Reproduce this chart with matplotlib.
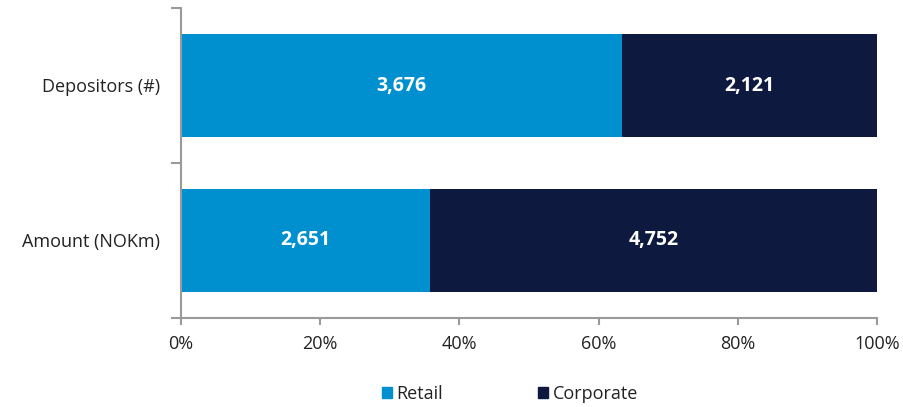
import matplotlib
matplotlib.use("Agg")
import matplotlib.pyplot as plt
from matplotlib.patches import Patch

categories = ["Amount (NOKm)", "Depositors (#)"]
retail = [2651, 3676]
corporate = [4752, 2121]
series_names = ["Retail", "Corporate"]
xticks = [0, 20, 40, 60, 80, 100]

c_retail = "#0090CF"
c_corp = "#0D193E"
gray = "#9A9A9A"

plt.rcParams['font.family'] = ['Open Sans', 'DejaVu Sans']

fig = plt.figure(figsize=(9.04, 4.07), dpi=100)
ax = fig.add_axes([181/904, 1-318/407, (877-181)/904, 310/407])

y = list(range(len(categories)))
tot = [r + c for r, c in zip(retail, corporate)]
rp = [r / t * 100 for r, t in zip(retail, tot)]
cp = [c / t * 100 for c, t in zip(corporate, tot)]
h = 103/155
ax.barh(y, rp, height=h, color=c_retail)
ax.barh(y, cp, left=rp, height=h, color=c_corp)
for i in y:
    ax.text(rp[i]/2, i, f"{retail[i]:,}", ha="center", va="center", color="white",
            fontsize=14, fontweight="bold")
    ax.text(rp[i] + cp[i]/2, i, f"{corporate[i]:,}", ha="center", va="center", color="white",
            fontsize=14, fontweight="bold")

ax.set_xlim(0, 100)
ax.set_ylim(-0.5, len(categories) - 0.5)
ax.set_xticks(xticks)
ax.set_xticklabels([f"{v}%" for v in xticks], fontsize=13, color="#222222")
ax.set_yticks(y)
ax.set_yticklabels(categories, fontsize=13, color="#222222")
ax.set_yticks([-0.5, 0.5, 1.5], minor=True)
ax.tick_params(axis="y", which="major", length=0, pad=15)
ax.tick_params(axis="y", which="minor", length=7, color=gray, width=1.5)
ax.tick_params(axis="x", which="major", length=5, color=gray, width=1.5, direction="out", pad=7)
for s in ["top", "right"]:
    ax.spines[s].set_visible(False)
for s in ["left", "bottom"]:
    ax.spines[s].set_color(gray)
    ax.spines[s].set_linewidth(1.5)

handles = [Patch(color=c_retail), Patch(color=c_corp)]
fig.legend(handles, series_names, loc="center", bbox_to_anchor=(510/904, 1-394/407),
           ncol=2, frameon=False, fontsize=13, handlelength=0.55, handleheight=0.55,
           handletextpad=0.25, columnspacing=5.3, labelcolor="#222222")

fig.savefig("out.png", dpi=100)
